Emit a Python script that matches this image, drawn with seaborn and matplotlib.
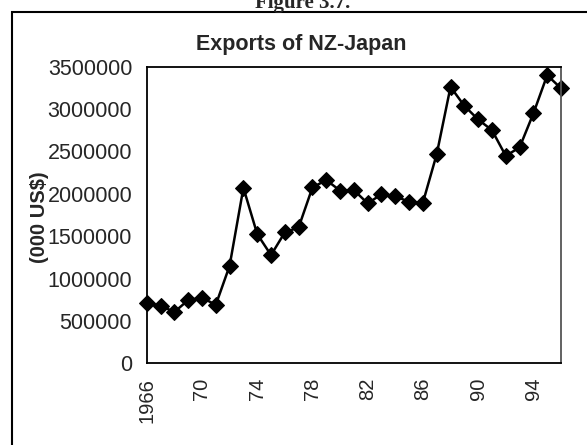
import matplotlib
matplotlib.use("Agg")
import matplotlib.pyplot as plt
from matplotlib.patches import Rectangle
import seaborn as sns
import pandas as pd

# NZ exports to Japan, 000 US$
years = [1966, 1967, 1968, 1969, 1970, 1971, 1972, 1973, 1974, 1975, 1976,
         1977, 1978, 1979, 1980, 1981, 1982, 1983, 1984, 1985, 1986, 1987,
         1988, 1989, 1990, 1991, 1992, 1993, 1994, 1995, 1996]
exports = [710000, 680000, 605000, 746000, 774000, 690000, 1150000, 2071000,
           1525000, 1277000, 1545000, 1604000, 2075000, 2162000, 2038000,
           2044000, 1887000, 1995000, 1973000, 1904000, 1897000, 2468000,
           3262000, 3038000, 2877000, 2751000, 2448000, 2547000, 2948000,
           3400000, 3245000]
tick_years = [1966, 1970, 1974, 1978, 1982, 1986, 1990, 1994]
tick_names = ["1966", "70", "74", "78", "82", "86", "90", "94"]
y_ticks = [0, 500000, 1000000, 1500000, 2000000, 2500000, 3000000, 3500000]

df = pd.DataFrame({"year": years, "exports": exports})

sns.set_theme(style="white")
plt.rcParams["font.family"] = ["Liberation Sans", "DejaVu Sans"]

fig = plt.figure(figsize=(5.87, 4.45), dpi=100)
ax = fig.add_axes([0.25, 0.1836, 0.7057, 0.6665])

sns.lineplot(data=df, x="year", y="exports", ax=ax, color="black",
             marker="D", markersize=8, markeredgecolor="black",
             linewidth=1.8, clip_on=False)

ax.set_xlim(1966, 1996)
ax.set_ylim(0, 3500000)
ax.set_xticks(years, minor=True)
ax.set_xticks(tick_years)
ax.set_xticklabels(tick_names, rotation=90)
ax.set_yticks(y_ticks)
ax.set_yticklabels([str(v) for v in y_ticks])
ax.tick_params(axis="both", which="both", direction="inout", length=9,
               width=1, color="black")
ax.tick_params(axis="y", labelsize=15.5, pad=6)
ax.tick_params(axis="x", labelsize=14.5, pad=6)
ax.set_xlabel("")
# in the source the axis title sits partly over the tick labels
ax.set_ylabel("(000 US$)", fontsize=14.5, fontweight="bold")
ax.yaxis.set_label_coords((49 - 146.7) / (0.7057 * 587), 0.493)

for side in ["left", "bottom", "top"]:
    ax.spines[side].set_color("black")
    ax.spines[side].set_linewidth(1.3)
ax.spines["right"].set_color("#555555")
ax.spines["right"].set_linewidth(1.3)

# chart title, centred over the whole chart box
fig.text(301 / 587, 1 - 50 / 445, "Exports of NZ-Japan", ha="center",
         va="baseline", fontsize=15.5, fontweight="bold")

# outer frame and caption of the scanned page
fig.patches.append(Rectangle((12 / 587, -0.1), 1.2, 1 - 12 / 445 + 0.1,
                             transform=fig.transFigure, fill=False,
                             edgecolor="black", linewidth=1.5))
fig.text(303 / 587, 1 - 8 / 445, "Figure 3.7.", ha="center", va="baseline",
         fontsize=15, fontweight="bold", family=["Liberation Serif", "DejaVu Serif"])

fig.savefig("out.png", dpi=100)
